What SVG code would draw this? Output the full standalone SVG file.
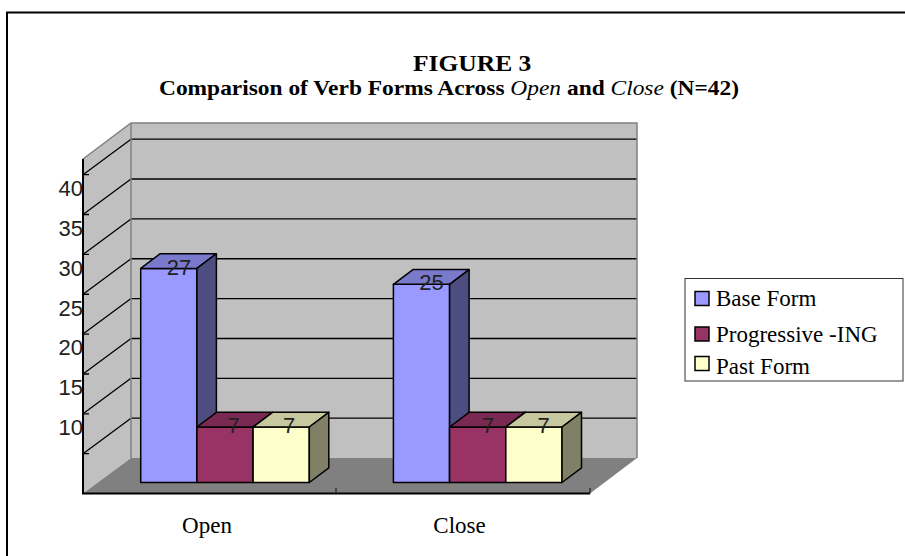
<svg xmlns="http://www.w3.org/2000/svg" width="905" height="556" viewBox="0 0 905 556">
  <style>
    .title { font-family: "Liberation Serif", "Times New Roman", serif; font-weight: bold; fill: #000; }
    .it { font-style: italic; font-weight: normal; }
    .axis { font-family: "Liberation Sans", Arial, sans-serif; font-size: 22px; fill: #222; }
    .val { font-family: "Liberation Sans", Arial, sans-serif; font-size: 22px; fill: #222; text-anchor: middle; }
    .cat { font-family: "Liberation Serif", "Times New Roman", serif; font-size: 23px; fill: #000; text-anchor: middle; }
    .leg { font-family: "Liberation Serif", "Times New Roman", serif; font-size: 23px; fill: #000; }
    .grid { stroke: #000; stroke-width: 1.3; fill: none; }
    .edge { stroke: #808080; stroke-width: 1.5; fill: none; }
    .bar { stroke: #000; stroke-width: 1.5; stroke-linejoin: round; }
    .b1f { fill: #9999ff; } .b1t { fill: #7a7acc; } .b1s { fill: #4d4d80; }
    .b2f { fill: #993366; } .b2t { fill: #7a2952; } .b2s { fill: #4d1a33; }
    .b3f { fill: #ffffcc; } .b3t { fill: #c8c8a0; } .b3s { fill: #808066; }
  </style>

  <!-- outer frame -->
  <rect x="7" y="12.5" width="1000" height="1000" fill="#fff" stroke="#000" stroke-width="2"/>

  <!-- titles (slightly widened serif) -->
  <g id="title">
    <text class="title" transform="translate(413,71) scale(1.11,1)" font-size="23">FIGURE 3</text>
    <text class="title" transform="translate(159,95) scale(1.115,1)" font-size="21">Comparison of Verb Forms Across <tspan class="it">Open</tspan> and <tspan class="it">Close</tspan> (N=42)</text>
  </g>

  <!-- walls and floor -->
  <g id="plot-area">
    <polygon points="83,159 131,123 131,458 83,493.5" fill="#c0c0c0"/>
    <rect x="131" y="123" width="506" height="335" fill="#c0c0c0"/>
    <polygon points="83,493.5 131,458 637,458 590,493.5" fill="#808080"/>

    <!-- gridlines: back wall and left wall -->
    <g class="grid">
      <path d="M131,139.2H637 M131,179H637 M131,218.9H637 M131,258.75H637 M131,298.6H637 M131,338.5H637 M131,378.3H637 M131,418.2H637"/>
      <path d="M83,174.7L131,139.2 M83,214.5L131,179 M83,254.4L131,218.9 M83,294.25L131,258.75 M83,334.1L131,298.6 M83,374L131,338.5 M83,413.8L131,378.3 M83,453.7L131,418.2"/>
      <path d="M83,174.7h6 M83,214.5h6 M83,254.4h6 M83,294.25h6 M83,334.1h6 M83,374h6 M83,413.8h6 M83,453.7h6"/>
    </g>

    <!-- wall edges -->
    <path class="edge" d="M83,159L131,123H637V458 M131,123V458"/>
    <path d="M83,159V493.5H590" stroke="#000" stroke-width="2" fill="none"/>
    <path d="M336,488V493.5 M590,488V493.5" stroke="#222" stroke-width="1.2"/>
  </g>

  <!-- y axis labels -->
  <g id="y-axis" class="axis" text-anchor="end">
    <text x="83" y="195.5">40</text>
    <text x="83" y="235.5">35</text>
    <text x="83" y="275.5">30</text>
    <text x="83" y="315.5">25</text>
    <text x="83" y="355">20</text>
    <text x="83" y="395">15</text>
    <text x="83" y="434.5">10</text>
  </g>

  <!-- Open group -->
  <g id="bars-open">
    <g id="open-base">
      <rect class="bar b1f" x="140.7" y="268.4" width="56.2" height="214.1"/>
      <polygon class="bar b1t" points="140.7,268.4 160.2,253.7 216.4,253.7 196.9,268.4"/>
      <polygon class="bar b1s" points="196.9,268.4 216.4,253.7 216.4,467.8 196.9,482.5"/>
    </g>
    <g id="open-prog">
      <rect class="bar b2f" x="196.9" y="427" width="56.2" height="55.5"/>
      <polygon class="bar b2t" points="196.9,427 216.4,412.3 272.6,412.3 253.1,427"/>
      <polygon class="bar b2s" points="253.1,427 272.6,412.3 272.6,467.8 253.1,482.5"/>
    </g>
    <g id="open-past">
      <rect class="bar b3f" x="253.1" y="427" width="56.2" height="55.5"/>
      <polygon class="bar b3t" points="253.1,427 272.6,412.3 328.8,412.3 309.3,427"/>
      <polygon class="bar b3s" points="309.3,427 328.8,412.3 328.8,467.8 309.3,482.5"/>
    </g>
  </g>

  <!-- Close group -->
  <g id="bars-close">
    <g id="close-base">
      <rect class="bar b1f" x="393.4" y="284.3" width="56.2" height="198.2"/>
      <polygon class="bar b1t" points="393.4,284.3 412.9,269.6 469.1,269.6 449.6,284.3"/>
      <polygon class="bar b1s" points="449.6,284.3 469.1,269.6 469.1,467.8 449.6,482.5"/>
    </g>
    <g id="close-prog">
      <rect class="bar b2f" x="449.6" y="427" width="56.2" height="55.5"/>
      <polygon class="bar b2t" points="449.6,427 469.1,412.3 525.3,412.3 505.8,427"/>
      <polygon class="bar b2s" points="505.8,427 525.3,412.3 525.3,467.8 505.8,482.5"/>
    </g>
    <g id="close-past">
      <rect class="bar b3f" x="505.8" y="427" width="56.2" height="55.5"/>
      <polygon class="bar b3t" points="505.8,427 525.3,412.3 581.5,412.3 562,427"/>
      <polygon class="bar b3s" points="562,427 581.5,412.3 581.5,467.8 562,482.5"/>
    </g>
  </g>

  <!-- data labels -->
  <g id="value-labels" class="val">
    <text x="179" y="274.5">27</text>
    <text x="233.5" y="433">7</text>
    <text x="289" y="433">7</text>
    <text x="431.5" y="290.3">25</text>
    <text x="488" y="433">7</text>
    <text x="543.5" y="433">7</text>
  </g>

  <!-- category labels -->
  <g id="x-axis" class="cat">
    <text x="207" y="533">Open</text>
    <text x="459.5" y="533">Close</text>
  </g>

  <!-- legend -->
  <g id="legend">
    <rect x="685" y="278.5" width="218" height="102.5" fill="#fff" stroke="#333" stroke-width="1"/>
    <rect x="695" y="291.5" width="14" height="14" fill="#9999ff" stroke="#000" stroke-width="1.5"/>
    <text class="leg" x="716" y="306">Base Form</text>
    <rect x="695" y="327" width="14" height="14" fill="#993366" stroke="#000" stroke-width="1.5"/>
    <text class="leg" x="716" y="342">Progressive -ING</text>
    <rect x="695" y="356.5" width="14" height="14" fill="#ffffcc" stroke="#000" stroke-width="1.5"/>
    <text class="leg" x="716" y="373.5">Past Form</text>
  </g>
</svg>
